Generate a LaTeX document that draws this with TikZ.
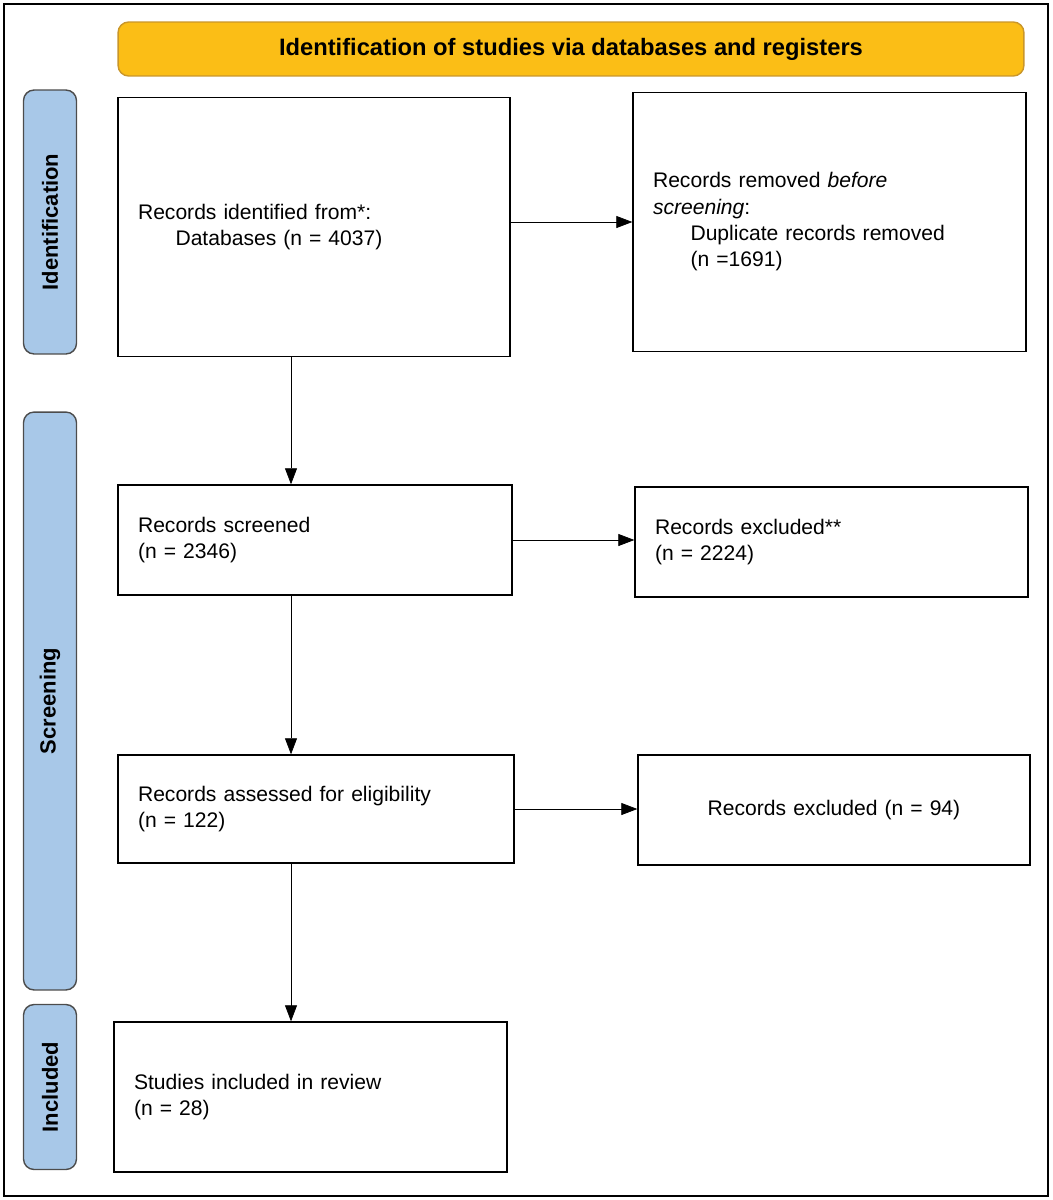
\documentclass[tikz,border=0pt]{standalone}
\usepackage{fontspec}
\setmainfont{Liberation Sans}
\usetikzlibrary{positioning}
\usetikzlibrary{arrows.meta}
\tikzset{>={Triangle[length=3.2mm,width=2.4mm]}}
\tikzset{box/.style={draw,thick,align=left,inner xsep=0.4cm,font=\fontsize{12}{15}\selectfont}}
\tikzset{phase/.style={draw=black!70,thick,rounded corners=6pt,fill=phaseblue,minimum width=1.06cm}}
\tikzset{phasetxt/.style={rotate=90,font=\bfseries\fontsize{12.5}{14}\selectfont}}
\definecolor{phaseblue}{HTML}{A8C8E8}
\definecolor{headyellow}{HTML}{FBBE16}
\definecolor{headedge}{HTML}{C9962A}

\begin{document}
\begin{tikzpicture}[x=0.02cm,y=-0.02cm]
\useasboundingbox (0,0) rectangle (1052,1200);
\draw[thick] (4,4) rectangle (1048,1196);

% header
\node (head) [draw=headedge,thick,fill=headyellow,rounded corners=6pt,minimum width=18.12cm,minimum height=1.08cm,font=\bfseries\fontsize{13.5}{15}\selectfont] at (571,49) {Identification of studies via databases and registers};

% phases
\node (pid) [phase,minimum height=5.28cm] at (50,222) {};
\node [phasetxt] at (pid) {Identification};
\node (pscr) [phase,minimum height=11.56cm] at (50,701) {};
\node [phasetxt] at (pscr) {Screening};
\node (pinc) [phase,minimum height=3.3cm] at (50,1087) {};
\node [phasetxt] at (pinc) {Included};

% boxes
\node (ident) [box,text width=7.04cm,minimum height=5.18cm] at (314,227) {Records identified from*:\\\hspace{0.75cm}Databases (n = 4037)};
\node (removed) [box,text width=7.06cm,minimum height=5.18cm] at (829.5,222) {Records removed \textit{before}\\\textit{screening}:\\\hspace{0.75cm}Duplicate records removed\\\hspace{0.75cm}(n =1691)};
\node (screened) [box,text width=7.08cm,minimum height=2.2cm] at (315,540) {Records screened\\(n = 2346)};
\node (excl) [box,text width=7.06cm,minimum height=2.2cm] at (831.5,542) {Records excluded**\\(n = 2224)};
\node (assessed) [box,text width=7.12cm,minimum height=2.16cm] at (316,809) {Records assessed for eligibility\\(n = 122)};
\node (exclel) [box,align=center,text width=7.04cm,minimum height=2.2cm] at (834,810) {Records excluded (n = 94)};
\node (incl) [box,text width=7.06cm,minimum height=3.0cm] at (310.5,1097) {Studies included in review\\(n = 28)};

% arrows
\coordinate (arrx) at (291,0);
\draw[->] (ident.south -| arrx) -- (screened.north -| arrx);
\draw[->] (screened.south -| arrx) -- (assessed.north -| arrx);
\draw[->] (assessed.south -| arrx) -- (incl.north -| arrx);
\draw[->] (ident.east |- removed.west) -- (removed.west);
\draw[->] (screened.east) -- (excl.west |- screened.east);
\draw[->] (assessed.east) -- (exclel.west |- assessed.east);
\end{tikzpicture}
\end{document}
